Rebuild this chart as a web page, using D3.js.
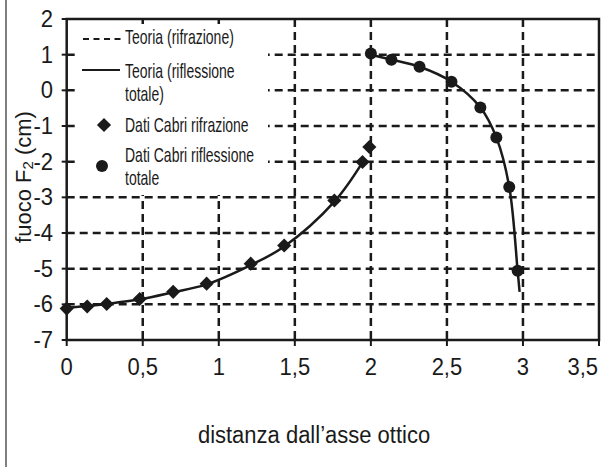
<!DOCTYPE html>
<html>
<head>
<meta charset="utf-8">
<script src="https://cdn.jsdelivr.net/npm/d3@7"></script>
<style>
  body { margin: 0; background: #fff; }
  svg { display: block; }
  text { font-family: "Liberation Sans", Arial, sans-serif; fill: #1a1a1a; }
</style>
</head>
<body>
<div id="chart"></div>
<script>
// Dati Cabri (rifrazione) - diamanti
var cabriRifrX = [0.0, 0.135, 0.263, 0.48, 0.70, 0.92, 1.21, 1.43, 1.76, 1.945, 1.99];
var cabriRifrY = [-6.12, -6.06, -5.99, -5.85, -5.65, -5.42, -4.86, -4.35, -3.09, -2.01, -1.59];

// Dati Cabri (riflessione totale) - cerchi
var cabriRiflX = [2.0, 2.135, 2.32, 2.53, 2.72, 2.825, 2.91, 2.965];
var cabriRiflY = [1.03, 0.86, 0.66, 0.24, -0.48, -1.32, -2.71, -5.06];

// curve teoriche
var teoriaRifrX = [0.0, 0.135, 0.263, 0.48, 0.70, 0.92, 1.21, 1.43, 1.76, 1.945];
var teoriaRifrY = [-6.1, -6.05, -5.99, -5.86, -5.66, -5.44, -4.9, -4.38, -3.12, -2.02];
var teoriaRiflX = [2.0, 2.135, 2.32, 2.53, 2.72, 2.825, 2.91, 2.965, 2.978];
var teoriaRiflY = [1.0, 0.86, 0.66, 0.24, -0.48, -1.32, -2.71, -5.06, -5.65];

var xTicks = [0, 0.5, 1, 1.5, 2, 2.5, 3, 3.5];
var xTickLabels = ["0", "0,5", "1", "1,5", "2", "2,5", "3", "3,5"];
var yTicks = [2, 1, 0, -1, -2, -3, -4, -5, -6, -7];
var yTickLabels = ["2", "1", "0", "-1", "-2", "-3", "-4", "-5", "-6", "-7"];

var legendItems = ["Teoria (rifrazione)", "Teoria (riflessione", "totale)",
                   "Dati Cabri rifrazione", "Dati Cabri riflessione", "totale"];

var width = 601, height = 467;
var ink = "#1a1a1a";

var svg = d3.select("#chart").append("svg")
    .attr("width", width)
    .attr("height", height);

var x = d3.scaleLinear().domain([0, 3.5]).range([66.7, 599]);
var y = d3.scaleLinear().domain([-7, 2]).range([340, 19]);

// bordo sinistro della figura
svg.append("line")
    .attr("x1", 6).attr("x2", 6)
    .attr("y1", 0).attr("y2", height)
    .attr("stroke", "#555").attr("stroke-width", 1.5);

// griglia tratteggiata
var grid = svg.append("g");
grid.selectAll(".gx")
    .data(xTicks.slice(1, -1))
    .enter().append("line")
    .attr("x1", function(d) { return x(d); })
    .attr("x2", function(d) { return x(d); })
    .attr("y1", y(2)).attr("y2", y(-7));
grid.selectAll(".gy")
    .data(yTicks.slice(1, -1))
    .enter().append("line")
    .attr("x1", x(0)).attr("x2", x(3.5))
    .attr("y1", function(d) { return y(d); })
    .attr("y2", function(d) { return y(d); });
grid.selectAll("line")
    .attr("stroke", ink)
    .attr("stroke-width", 2.5)
    .attr("stroke-dasharray", "8,5");

// tacche
svg.selectAll(".tx")
    .data(xTicks)
    .enter().append("line")
    .attr("x1", function(d) { return x(d); })
    .attr("x2", function(d) { return x(d); })
    .attr("y1", y(-7)).attr("y2", y(-7) + 6)
    .attr("stroke", ink).attr("stroke-width", 2);
svg.selectAll(".ty")
    .data(yTicks)
    .enter().append("line")
    .attr("x1", x(0) - 5).attr("x2", x(0))
    .attr("y1", function(d) { return y(d); })
    .attr("y2", function(d) { return y(d); })
    .attr("stroke", ink).attr("stroke-width", 2);

// cornice
svg.append("rect")
    .attr("x", x(0)).attr("y", y(2))
    .attr("width", x(3.5) - x(0))
    .attr("height", y(-7) - y(2))
    .attr("fill", "none")
    .attr("stroke", ink).attr("stroke-width", 2.5);

// etichette assi
svg.selectAll(".lx")
    .data(xTicks)
    .enter().append("text")
    .attr("transform", function(d, i) {
        var px = i === xTicks.length - 1 ? 598 : x(d);
        return "translate(" + px + ",375) scale(1,1.1)";
    })
    .attr("text-anchor", function(d, i) { return i === xTicks.length - 1 ? "end" : "middle"; })
    .attr("font-size", 22)
    .text(function(d, i) { return xTickLabels[i]; });

svg.selectAll(".ly")
    .data(yTicks)
    .enter().append("text")
    .attr("transform", function(d) { return "translate(53," + (y(d) + 8) + ") scale(1,1.1)"; })
    .attr("text-anchor", "end")
    .attr("font-size", 22)
    .text(function(d, i) { return yTickLabels[i]; });

svg.append("text")
    .attr("transform", "translate(314,443) scale(1,1.12)")
    .attr("text-anchor", "middle")
    .attr("font-size", 22)
    .text("distanza dall\u2019asse ottico");

var yTitle = svg.append("text")
    .attr("transform", "translate(31,177) rotate(-90)")
    .attr("text-anchor", "middle")
    .attr("font-size", 22);
yTitle.append("tspan").text("fuoco F");
yTitle.append("tspan").attr("font-size", 15).attr("dy", 2).text("2");
yTitle.append("tspan").attr("dy", -2).text(" (cm)");

// curve teoriche
var line = d3.line()
    .x(function(d) { return x(d[0]); })
    .y(function(d) { return y(d[1]); })
    .curve(d3.curveCatmullRom.alpha(0.5));

svg.append("path")
    .datum(d3.zip(teoriaRifrX, teoriaRifrY))
    .attr("d", line)
    .attr("fill", "none").attr("stroke", ink).attr("stroke-width", 2.5);
svg.append("path")
    .datum(d3.zip(teoriaRiflX, teoriaRiflY))
    .attr("d", line)
    .attr("fill", "none").attr("stroke", ink).attr("stroke-width", 2.5);

// punti
var diamond = d3.symbol().type(d3.symbolSquare).size(100);
svg.selectAll(".dm")
    .data(d3.zip(cabriRifrX, cabriRifrY))
    .enter().append("path")
    .attr("d", diamond)
    .attr("transform", function(d) { return "translate(" + x(d[0]) + "," + y(d[1]) + ") rotate(45)"; })
    .attr("fill", ink);

svg.selectAll(".ci")
    .data(d3.zip(cabriRiflX, cabriRiflY))
    .enter().append("circle")
    .attr("cx", function(d) { return x(d[0]); })
    .attr("cy", function(d) { return y(d[1]); })
    .attr("r", 6)
    .attr("fill", ink);

// legenda
var lg = svg.append("g");
lg.append("rect")
    .attr("x", 76).attr("y", 24)
    .attr("width", 192).attr("height", 171)
    .attr("fill", "#fff");

lg.append("line")
    .attr("x1", 83).attr("x2", 122).attr("y1", 39).attr("y2", 39)
    .attr("stroke", ink).attr("stroke-width", 2)
    .attr("stroke-dasharray", "6,4.5");
lg.append("line")
    .attr("x1", 82).attr("x2", 120).attr("y1", 70).attr("y2", 70)
    .attr("stroke", ink).attr("stroke-width", 2);
lg.append("path")
    .attr("d", diamond)
    .attr("transform", "translate(104,125) rotate(45)")
    .attr("fill", ink);
lg.append("circle")
    .attr("cx", 102).attr("cy", 166).attr("r", 6)
    .attr("fill", ink);

var legendBase = [44, 77.5, 100.5, 131.5, 161.5, 185];
lg.selectAll(".lt")
    .data(legendItems)
    .enter().append("text")
    .attr("transform", function(d, i) { return "translate(125," + legendBase[i] + ") scale(1,1.4)"; })
    .attr("font-size", 14)
    .text(function(d) { return d; });
</script>
</body>
</html>
